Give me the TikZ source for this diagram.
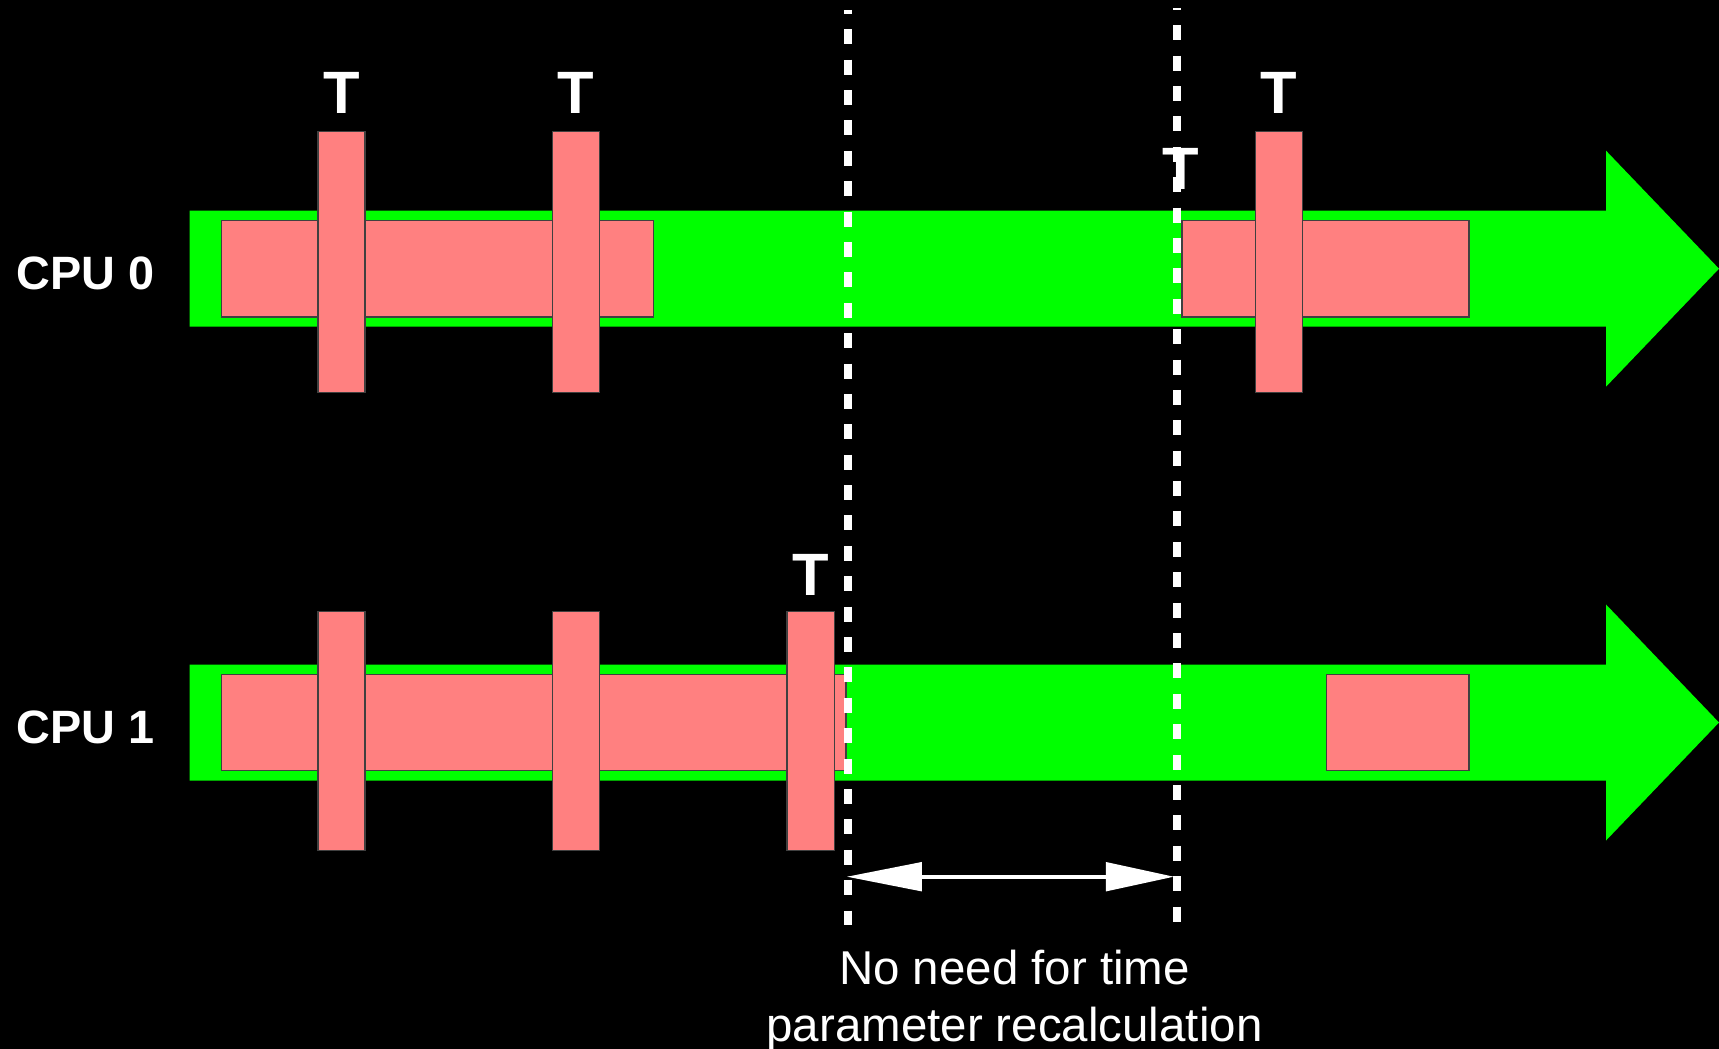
\documentclass[tikz,border=0pt]{standalone}
\usepackage{fontspec}
\setmainfont{Liberation Sans}
\usepackage{xcolor}
\usetikzlibrary{positioning,arrows.meta}
\definecolor{cpugreen}{HTML}{00FF00}
\definecolor{jobred}{HTML}{FF8080}

\begin{document}
\begin{tikzpicture}[x=0.01cm, y=-0.01cm,
                    job/.style={fill=jobred, draw=black!75, line width=0.4pt},
                    tbar/.style={fill=jobred, draw=black!75, line width=0.4pt, inner sep=0pt, minimum width=0.472cm},
                    tbar0/.style={tbar, minimum height=2.609cm},
                    tbar1/.style={tbar, minimum height=2.39cm},
                    tmark/.style={text=white, inner sep=0pt, font=\fontsize{17}{20}\selectfont\bfseries},
                    cpulabel/.style={text=white, inner sep=0pt, anchor=base west, font=\fontsize{13.3}{16}\selectfont\bfseries},
                    cutline/.style={white, line width=0.083cm, dash pattern=on 0.15cm off 0.1537cm},
                    gaparrow/.style={white, line width=1.1pt, {Triangle[length=0.75cm,width=0.283cm]}-{Triangle[length=0.68cm,width=0.283cm]}},
                    note/.style={text=white, align=center, inner sep=0pt, font=\fontsize{13.5}{16.2}\selectfont}]
    \fill[black] (0,0) rectangle (1719,1049);
    \useasboundingbox (0,0) rectangle (1719,1049);
    % time lines
    \fill[cpugreen] (189.7,210.7) -- (1606,210.7) -- (1606,150.7) -- (1719,268.7)
        -- (1606,386.7) -- (1606,326.7) -- (189.7,326.7) -- cycle;
    \fill[cpugreen] (189.7,664.5) -- (1606,664.5) -- (1606,604.5) -- (1719,722.5)
        -- (1606,840.5) -- (1606,780.5) -- (189.7,780.5) -- cycle;
    \node[cpulabel] (cpu0) at (16,290) {CPU 0};
    \node[cpulabel] (cpu1) at (16,743) {CPU 1};
    % running tasks
    \draw[job] (221.5,220.5) rectangle (653.5,316.8);
    \draw[job] (1182,220.5) rectangle (1469,316.8);
    \draw[job] (221.5,674.2) rectangle (846,770.7);
    \draw[job] (1326.5,674.2) rectangle (1469,770.7);
    % ticks
    \node[tbar0] (t01) at (341.5,262) {};
    \node[tbar0] (t02) at (576.1,262) {};
    \node[tbar0] (t03) at (1278.9,262) {};
    \node[tbar1] (t11) at (341.5,731.2) {};
    \node[tbar1] (t12) at (576.1,731.2) {};
    \node[tbar1] (t13) at (810.7,731.2) {};
    \node[tmark, above=0.165cm of t01] (m01) {T};
    \node[tmark, above=0.165cm of t02] (m02) {T};
    \node[tmark, above=0.165cm of t03] (m03) {T};
    \node[tmark, above=0.145cm of t13] (m13) {T};
    \node[tmark, anchor=base] (mlate) at (1180.4,190) {T};
    % idle interval
    \coordinate (c1top) at (848.3,10);
    \coordinate (c1bot) at (848.3,925);
    \coordinate (c2top) at (1177.3,8);
    \coordinate (c2bot) at (1177.3,921.7);
    \draw[cutline, dash phase=0.111cm] (c1top) -- (c1bot);
    \draw[cutline, dash phase=0.131cm] (c2top) -- (c2bot);
    \coordinate (g1) at (846.7,876.7);
    \coordinate (g2) at (1174,876.7);
    \draw[gaparrow] (g1) -- (g2);
    \node[note, anchor=north] (gapnote) at (1014.5,949) {No need for time\\parameter recalculation};
\end{tikzpicture}
\end{document}
